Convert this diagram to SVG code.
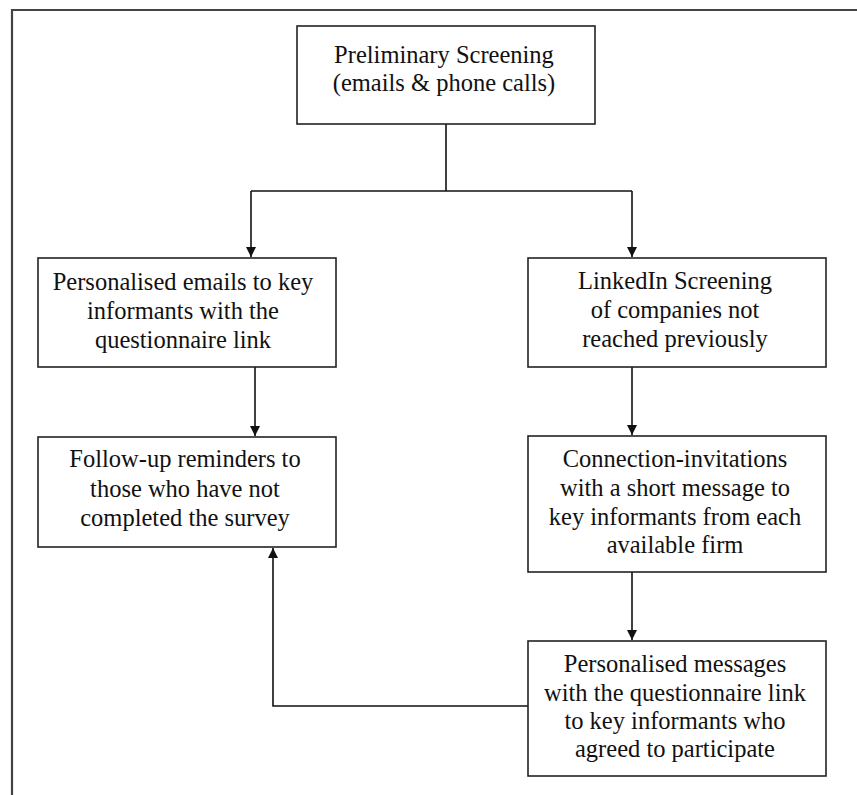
<svg xmlns="http://www.w3.org/2000/svg" width="857" height="795" viewBox="0 0 857 795">
  <style>
    .frame { fill: none; stroke: #444; stroke-width: 2.2; }
    .box { fill: #fff; stroke: #222; stroke-width: 1.6; }
    .label { font-family: "Liberation Serif", "Times New Roman", serif; font-size: 24.5px; fill: #111; text-anchor: middle; }
    .link { fill: none; stroke: #111; stroke-width: 1.6; }
  </style>
  <defs>
    <marker id="arrow" viewBox="0 0 10 10" refX="10" refY="5" markerWidth="10" markerHeight="10" markerUnits="userSpaceOnUse" orient="auto">
      <path d="M0,0 L10,5 L0,10 Z" fill="#111"/>
    </marker>
  </defs>

  <rect width="857" height="795" fill="#fff"/>

  <!-- outer figure frame, running past the page edges -->
  <path class="frame" d="M12,800 V10 H870"/>

  <!-- connectors -->
  <g id="connectors">
    <path class="link" d="M446,124 V191"/>
    <path class="link" d="M251,191 H632"/>
    <path class="link" d="M251,191 V257" marker-end="url(#arrow)"/>
    <path class="link" d="M632,191 V257" marker-end="url(#arrow)"/>
    <path class="link" d="M255,367 V436" marker-end="url(#arrow)"/>
    <path class="link" d="M632,367 V435" marker-end="url(#arrow)"/>
    <path class="link" d="M632,572 V640" marker-end="url(#arrow)"/>
    <path class="link" d="M528,706 H273 V548" marker-end="url(#arrow)"/>
  </g>

  <g id="preliminary-screening">
    <rect class="box" x="297" y="26" width="298" height="98"/>
    <text class="label" x="444" y="63">Preliminary Screening</text>
    <text class="label" x="444" y="91">(emails &amp; phone calls)</text>
  </g>

  <g id="personalised-emails">
    <rect class="box" x="38" y="258" width="298" height="109"/>
    <text class="label" x="183" y="290">Personalised emails to key</text>
    <text class="label" x="183" y="319">informants with the</text>
    <text class="label" x="183" y="348">questionnaire link</text>
  </g>

  <g id="linkedin-screening">
    <rect class="box" x="528" y="258" width="298" height="109"/>
    <text class="label" x="675" y="289">LinkedIn Screening</text>
    <text class="label" x="675" y="318">of companies not</text>
    <text class="label" x="675" y="347">reached previously</text>
  </g>

  <g id="follow-up-reminders">
    <rect class="box" x="38" y="437" width="298" height="110"/>
    <text class="label" x="185" y="467">Follow-up reminders to</text>
    <text class="label" x="185" y="497">those who have not</text>
    <text class="label" x="185" y="526">completed the survey</text>
  </g>

  <g id="connection-invitations">
    <rect class="box" x="528" y="436" width="298" height="136"/>
    <text class="label" x="675" y="467">Connection-invitations</text>
    <text class="label" x="675" y="496">with a short message to</text>
    <text class="label" x="675" y="525">key informants from each</text>
    <text class="label" x="675" y="553">available firm</text>
  </g>

  <g id="personalised-messages">
    <rect class="box" x="528" y="641" width="298" height="135"/>
    <text class="label" x="675" y="672">Personalised messages</text>
    <text class="label" x="675" y="701">with the questionnaire link</text>
    <text class="label" x="675" y="729">to key informants who</text>
    <text class="label" x="675" y="757">agreed to participate</text>
  </g>
</svg>
